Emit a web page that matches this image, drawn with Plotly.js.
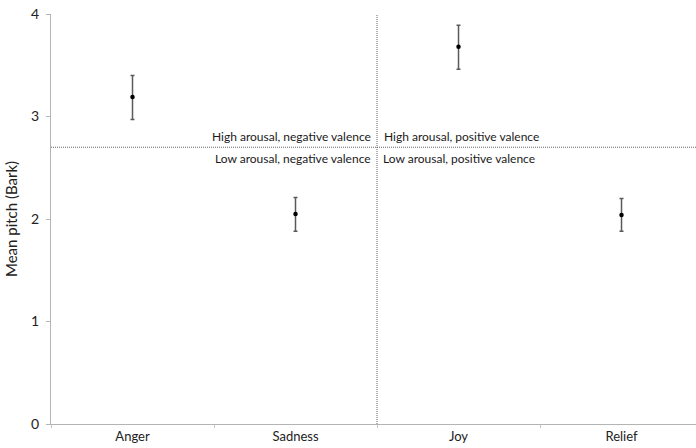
<!DOCTYPE html>
<html>
<head>
<meta charset="utf-8">
<script src="https://cdn.plot.ly/plotly-3.0.1.min.js"></script>
<style>
  html, body { margin: 0; padding: 0; background: #ffffff; }
  #chart { width: 696px; height: 448px; }
</style>
</head>
<body>
<div id="chart"></div>
<script>
// Emotion categories and mean pitch (Bark) with error bar limits
const emotions = ["Anger", "Sadness", "Joy", "Relief"];
const meanPitch = [3.19, 2.05, 3.68, 2.04];
const errUpper = [3.40, 2.21, 3.89, 2.20];
const errLower = [2.97, 1.88, 3.46, 1.88];

// Quadrant separators: arousal threshold and valence boundary
const arousalSplit = 2.7;
const valenceSplit = 1.5;
const quadrantLabels = {
  highNeg: "High arousal, negative valence",
  lowNeg: "Low arousal, negative valence",
  highPos: "High arousal, positive valence",
  lowPos: "Low arousal, positive valence"
};

const plus = meanPitch.map((m, i) => +(errUpper[i] - m).toFixed(3));
const minus = meanPitch.map((m, i) => +(m - errLower[i]).toFixed(3));

const fontFamily = "Lato, 'Open Sans', sans-serif";

const trace = {
  type: "scatter",
  mode: "markers",
  x: emotions,
  y: meanPitch,
  marker: { color: "#000000", size: 4.5, symbol: "circle" },
  error_y: {
    type: "data",
    symmetric: false,
    array: plus,
    arrayminus: minus,
    color: "#5a5a5a",
    thickness: 1.5,
    width: 2
  },
  hoverinfo: "x+y"
};

const labelFont = { family: fontFamily, size: 12, color: "#1a1a1a" };

const layout = {
  width: 696,
  height: 448,
  margin: { l: 51, r: 0, t: 14, b: 24 },
  paper_bgcolor: "#ffffff",
  plot_bgcolor: "#ffffff",
  showlegend: false,
  font: { family: fontFamily, color: "#222222" },
  xaxis: {
    type: "category",
    range: [-0.5, 3.457],
    showgrid: false,
    zeroline: false,
    showline: true,
    linecolor: "#b4b4b4",
    linewidth: 1,
    ticks: "outside",
    tickson: "boundaries",
    ticklen: 3,
    tickcolor: "#c8c8c8",
    tickfont: { family: fontFamily, size: 13, color: "#222222" }
  },
  yaxis: {
    range: [0, 4],
    dtick: 1,
    tick0: 0,
    showgrid: false,
    zeroline: false,
    showline: true,
    linecolor: "#b4b4b4",
    linewidth: 1,
    ticks: "outside",
    ticklen: 4,
    tickcolor: "#b4b4b4",
    ticklabelstandoff: 4,
    tickfont: { family: fontFamily, size: 14, color: "#222222" },
    title: {
      text: "Mean pitch (Bark)",
      font: { family: fontFamily, size: 15, color: "#222222" },
      standoff: 9
    }
  },
  shapes: [
    {
      type: "line", xref: "paper", yref: "y",
      x0: 0, x1: 1, y0: arousalSplit, y1: arousalSplit,
      line: { color: "#666666", width: 1, dash: "1px,1px" }
    },
    {
      type: "line", xref: "x", yref: "paper",
      x0: valenceSplit, x1: valenceSplit, y0: 0, y1: 1,
      line: { color: "#666666", width: 1, dash: "1px,1px" }
    }
  ],
  annotations: [
    { text: quadrantLabels.highNeg, x: valenceSplit, y: arousalSplit, xref: "x", yref: "y",
      xanchor: "right", yanchor: "middle", xshift: -4, yshift: 11, showarrow: false, font: labelFont },
    { text: quadrantLabels.lowNeg, x: valenceSplit, y: arousalSplit, xref: "x", yref: "y",
      xanchor: "right", yanchor: "middle", xshift: -4, yshift: -11, showarrow: false, font: labelFont },
    { text: quadrantLabels.highPos, x: valenceSplit, y: arousalSplit, xref: "x", yref: "y",
      xanchor: "left", yanchor: "middle", xshift: 5, yshift: 11, showarrow: false, font: labelFont },
    { text: quadrantLabels.lowPos, x: valenceSplit, y: arousalSplit, xref: "x", yref: "y",
      xanchor: "left", yanchor: "middle", xshift: 4, yshift: -11, showarrow: false, font: labelFont }
  ]
};

Plotly.newPlot("chart", [trace], layout, { displayModeBar: false, staticPlot: true });
</script>
</body>
</html>
